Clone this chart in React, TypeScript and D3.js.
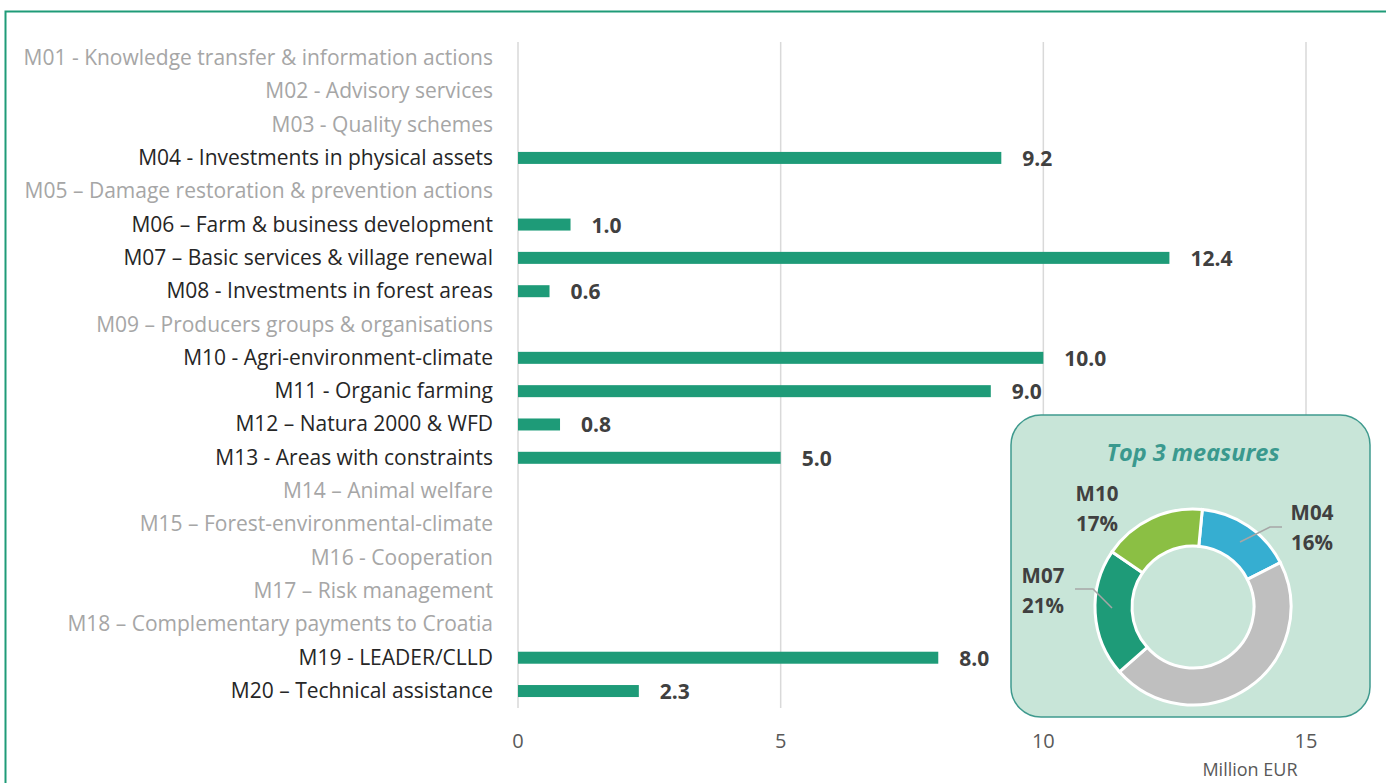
import React from 'react';
import * as d3 from 'd3';

const measures = [
  'M01 - Knowledge transfer & information actions',
  'M02 - Advisory services',
  'M03 - Quality schemes',
  'M04 - Investments in physical assets',
  'M05 – Damage restoration & prevention actions',
  'M06 – Farm & business development',
  'M07 – Basic services & village renewal',
  'M08 - Investments in forest areas',
  'M09 – Producers groups  & organisations',
  'M10 - Agri-environment-climate',
  'M11 - Organic farming',
  'M12 – Natura 2000 & WFD',
  'M13 - Areas with constraints',
  'M14 – Animal welfare',
  'M15 – Forest-environmental-climate',
  'M16 - Cooperation',
  'M17 – Risk management',
  'M18 – Complementary payments to Croatia',
  'M19 - LEADER/CLLD',
  'M20 – Technical assistance'
];
const amounts: (number | null)[] = [
  null, null, null, 9.2, null, 1.0, 12.4, 0.6, null, 10.0,
  9.0, 0.8, 5.0, null, null, null, null, null, 8.0, 2.3
];
const xTicks = [0, 5, 10, 15];

const topLabels = ['M04', 'Other', 'M07', 'M10'];
const topShares = [16, 46, 21, 17];
const topColors = ['#36aed1', '#bfbfbf', '#1e9b78', '#8bbf44'];

const W = 1386, H = 783;

export default function App() {
  const x = d3.scaleLinear().domain([0, 15]).range([518, 1306]);
  const y = d3.scaleBand().domain(measures).range([41.3, 707.7]).padding(0);
  const barH = 12;

  const cx = 1193, cy = 607;
  const pie = d3.pie<number>().sort(null)
    .startAngle(0.095).endAngle(0.095 + Math.PI * 2);
  const arcs = pie(topShares);
  const arc = d3.arc<d3.PieArcDatum<number>>().innerRadius(61).outerRadius(98);

  const font = "'Open Sans', 'DejaVu Sans', sans-serif";

  return (
    <svg width={W} height={H} style={{ position: 'absolute', left: 0, top: 0 }} fontFamily={font}>
      <rect x={0} y={0} width={W} height={H} fill="#fff" />
      {/* frame */}
      <path d={`M5.5,${H} V11.5 H${W}`} fill="none" stroke="#1f9b78" strokeWidth={2} />

      {/* grid */}
      {xTicks.map(t => (
        <line key={t} x1={x(t)} x2={x(t)} y1={42} y2={708} stroke="#d9d9d9" strokeWidth={1.5} />
      ))}
      {xTicks.map(t => (
        <text key={'t' + t} x={x(t)} y={748} textAnchor="middle" fontSize={20} fill="#595959">{t}</text>
      ))}
      <text x={1250} y={776} textAnchor="middle" fontSize={18} fill="#595959">Million EUR</text>

      {/* category labels */}
      {measures.map((m, i) => (
        <text key={m} x={493} y={(y(m) as number) + y.bandwidth() / 2 + 7} textAnchor="end"
          fontSize={21} fill={amounts[i] == null ? '#a6a6a6' : '#262626'}>{m}</text>
      ))}

      {/* bars */}
      {measures.map((m, i) => {
        const v = amounts[i];
        if (v == null) return null;
        const yc = (y(m) as number) + y.bandwidth() / 2;
        return (
          <g key={'b' + m}>
            <rect x={x(0)} y={yc - barH / 2} width={x(v) - x(0)} height={barH} fill="#1e9b78" />
            <text x={x(v) + 21} y={yc + 8} fontSize={21} fontWeight="bold" fill="#404040">{v.toFixed(1)}</text>
          </g>
        );
      })}

      {/* donut box */}
      <rect x={1011} y={415} width={359} height={302} rx={30} fill="#c8e5d8" stroke="#3f9a8e" strokeWidth={1.5} />
      <text x={1193} y={461} textAnchor="middle" fontSize={23.5} fontWeight="bold" fontStyle="italic" fill="#3a998e">Top 3 measures</text>
      <g transform={`translate(${cx},${cy})`}>
        {arcs.map((a, i) => (
          <path key={topLabels[i]} d={arc(a) || ''} fill={topColors[i]} stroke="#fff" strokeWidth={3} />
        ))}
      </g>
      {/* leader lines */}
      <polyline points="1240,542 1270,527 1282,527" fill="none" stroke="#a6a6a6" strokeWidth={1.5} />
      <polyline points="1075,589 1093,589 1112,608" fill="none" stroke="#a6a6a6" strokeWidth={1.5} />
      {/* slice labels */}
      {[
        { i: 0, x: 1312, y: 520 },
        { i: 2, x: 1043, y: 583 },
        { i: 3, x: 1097, y: 501 }
      ].map(l => (
        <text key={'l' + l.i} x={l.x} y={l.y} textAnchor="middle" fontSize={20.5} fontWeight="bold" fill="#404040">
          <tspan x={l.x}>{topLabels[l.i]}</tspan>
          <tspan x={l.x} dy={30}>{topShares[l.i]}%</tspan>
        </text>
      ))}
    </svg>
  );
}
